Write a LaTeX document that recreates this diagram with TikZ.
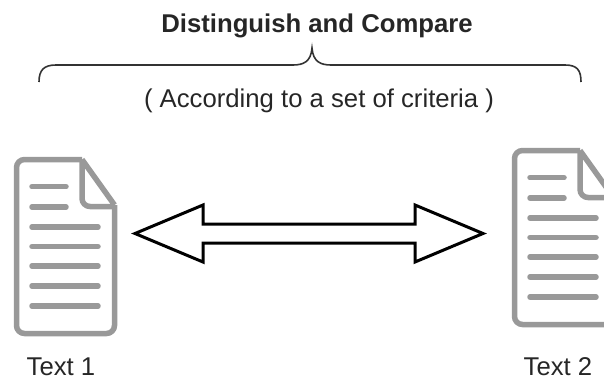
\documentclass[tikz,border=0pt]{standalone}
\usepackage{fontspec}
\setmainfont{Liberation Sans}
\tikzset{
 docline/.style={draw=docgray,line width=5.5pt,rounded corners=8pt,line join=round},
 docrow/.style={draw=docgray,line width=5.5pt,line cap=round},
 label/.style={inner sep=0pt,text=black!85,anchor=center},
 every picture/.style={x=1pt,y=-1pt}
}
\definecolor{docgray}{HTML}{999999}
\newcommand{\docicon}[2]{
 \begin{scope}[shift={(#1,#2)}]
  \draw[docline] (82,159.5) -- (16.5,159.5) -- (16.5,333.5) -- (114.5,333.5) -- (114.5,205);
  \draw[draw=docgray,line width=5.5pt,line join=round] (114.5,205) -- (82,159.5);
  \draw[docline] (82,159.5) -- (82,206.5) -- (114.5,206.5);
  \foreach \y in {186.7,207}{\draw[docrow] (32,\y) -- (66,\y);}
  \foreach \y in {227,246.5,266,286,306}{\draw[docrow] (32,\y) -- (98,\y);}
 \end{scope}
}
\begin{document}
\begin{tikzpicture}
\path[use as bounding box] (0,0) rectangle (604,380);
\clip (0,0) rectangle (604,380);
\node[label,font=\bfseries\fontsize{25.7}{28}\selectfont] (title) at (317,26) {Distinguish and Compare};
\node[label,font=\fontsize{25.7}{28}\selectfont] (sub) at (319,101) {( According to a set of criteria )};
\node[label,font=\fontsize{25.7}{28}\selectfont] (t1) at (61,367) {Text 1};
\node[label,font=\fontsize{25.7}{28}\selectfont] (t2) at (558,367) {Text 2};
\docicon{0}{0}
\docicon{498}{-9}
\draw[line width=3pt,line join=miter,miter limit=10,fill=white] (135,233.5) -- (203,205) -- (203,224) -- (415,224) -- (415,205) -- (483,233.5) -- (415,262) -- (415,243) -- (203,243) -- (203,262) -- cycle;
\draw[line width=1.6pt,black!80] (39,82) .. controls (39,70) and (44,65) .. (56,65) -- (293,65) .. controls (303,65) and (311,62) .. (312,48) .. controls (313,62) and (321,65) .. (331,65) -- (565,65) .. controls (577,65) and (581,70) .. (581,82);
\end{tikzpicture}
\end{document}
